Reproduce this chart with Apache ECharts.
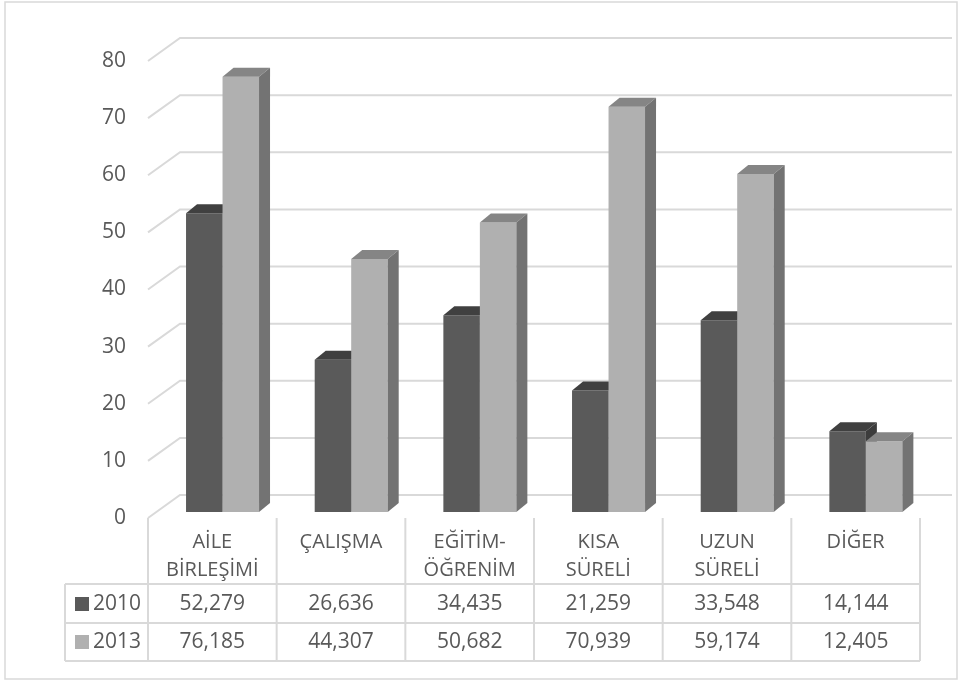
<!DOCTYPE html>
<html>
<head>
<meta charset="utf-8">
<style>
  html, body { margin: 0; padding: 0; background: #fff; }
  #main { width: 959px; height: 681px; }
</style>
<script src="https://cdn.jsdelivr.net/npm/echarts@6/dist/echarts.min.js"></script>
</head>
<body>
<div id="main"></div>
<script>
// veriler
var categories = ['AİLE\nBİRLEŞİMİ', 'ÇALIŞMA', 'EĞİTİM-\nÖĞRENİM', 'KISA\nSÜRELİ', 'UZUN\nSÜRELİ', 'DİĞER'];
var years = ['2010', '2013'];
var values2010 = [52.279, 26.636, 34.435, 21.259, 33.548, 14.144];
var values2013 = [76.185, 44.307, 50.682, 70.939, 59.174, 12.405];
var yTicks = [0, 10, 20, 30, 40, 50, 60, 70, 80];

var textColor = '#595959';
var lineColor = '#d9d9d9';
var font = 'Open Sans';

var myChart = echarts.init(document.getElementById('main'));

// derinlik (3B görünüm)
var DX = 11, DY = -9;

function fmt(v) {
    return v.toFixed(3).replace('.', ',');
}

function barRender(front, top, side, left, right) {
    return function (params, api) {
        var i = api.value(0);
        var v = api.value(1);
        var p = api.coord([i, v]);
        var b = api.coord([i, 0]);
        var cx = p[0];
        var x1 = cx + left, x2 = cx + right;
        var yt = p[1], yb = b[1];
        return {
            type: 'group',
            children: [
                { type: 'polygon', shape: { points: [[x1, yt], [x2, yt], [x2, yb], [x1, yb]] }, style: { fill: front } },
                { type: 'polygon', shape: { points: [[x1, yt], [x1 + DX, yt + DY], [x2 + DX, yt + DY], [x2, yt]] }, style: { fill: top } },
                { type: 'polygon', shape: { points: [[x2, yt], [x2 + DX, yt + DY], [x2 + DX, yb + DY], [x2, yb]] }, style: { fill: side } }
            ]
        };
    };
}

var option = {
    animation: false,
    grid: { left: 148, right: 39, top: 55, bottom: 169 },
    xAxis: {
        type: 'category',
        data: categories,
        axisLine: { show: false },
        axisTick: { show: false },
        axisLabel: {
            margin: 16,
            fontSize: 20,
            lineHeight: 28,
            color: textColor,
            fontFamily: font,
            interval: 0
        }
    },
    yAxis: {
        type: 'value',
        min: 0,
        max: 80,
        interval: 10,
        axisLine: { show: false },
        axisTick: { show: false },
        splitLine: { show: false },
        axisLabel: { show: false }
    },
    graphic: [
        { type: 'rect', shape: { x: 5, y: 2, width: 952, height: 677 }, style: { fill: 'none', stroke: lineColor, lineWidth: 1.5 }, silent: true },
        { type: 'line', shape: { x1: 65, y1: 584, x2: 920, y2: 584 }, style: { stroke: lineColor, lineWidth: 2 } },
        { type: 'line', shape: { x1: 65, y1: 623, x2: 920, y2: 623 }, style: { stroke: lineColor, lineWidth: 2 } },
        { type: 'line', shape: { x1: 65, y1: 661, x2: 920, y2: 661 }, style: { stroke: lineColor, lineWidth: 2 } },
        { type: 'line', shape: { x1: 65, y1: 584, x2: 65, y2: 661 }, style: { stroke: lineColor, lineWidth: 2 } },
        { type: 'rect', shape: { x: 75, y: 597, width: 14, height: 14 }, style: { fill: '#595959' } },
        { type: 'rect', shape: { x: 75, y: 635, width: 14, height: 14 }, style: { fill: '#b0b0b0' } },
        { type: 'text', x: 93, y: 604, style: { text: years[0], font: '21px "Open Sans"', fill: textColor, verticalAlign: 'middle' } },
        { type: 'text', x: 93, y: 642, style: { text: years[1], font: '21px "Open Sans"', fill: textColor, verticalAlign: 'middle' } }
    ],
    series: [
        {
            // kılavuz çizgileri (arka duvar) ve eksen etiketleri
            type: 'custom',
            z: 1,
            silent: true,
            data: yTicks.map(function (v) { return [0, v]; }),
            renderItem: function (params, api) {
                var v = api.value(1);
                var y = api.coord([0, v])[1];
                var band = api.size([1, 0])[0];
                var x0 = api.coord([0, 0])[0] - band / 2;
                var xEnd = api.coord([categories.length - 1, 0])[0] + band / 2;
                return {
                    type: 'group',
                    children: [
                        {
                            type: 'polyline',
                            shape: { points: [[x0, y + 6], [x0 + 32, y - 17], [xEnd + 32, y - 17]] },
                            style: { stroke: lineColor, lineWidth: 2, fill: 'none' }
                        },
                        {
                            type: 'text', x: x0 - 22, y: y + 6,
                            style: { text: String(v), font: '21px "Open Sans"', fill: textColor, align: 'right', verticalAlign: 'middle' }
                        }
                    ]
                };
            }
        },
        {
            name: years[0],
            type: 'custom',
            z: 2,
            data: values2010.map(function (v, i) { return [i, v]; }),
            renderItem: barRender('#5a5a5a', '#404040', '#3c3c3c', -26.3, 10.2)
        },
        {
            name: years[1],
            type: 'custom',
            z: 3,
            data: values2013.map(function (v, i) { return [i, v]; }),
            renderItem: barRender('#b0b0b0', '#858585', '#737373', 10.2, 46.7)
        },
        {
            // veri tablosu
            type: 'custom',
            z: 4,
            silent: true,
            data: categories.map(function (c, i) { return [i, 0]; }),
            renderItem: function (params, api) {
                var i = api.value(0);
                var cx = api.coord([i, 0])[0];
                var band = api.size([1, 0])[0];
                var xl = cx - band / 2;
                var ch = [
                    { type: 'line', shape: { x1: xl, y1: 518, x2: xl, y2: 661 }, style: { stroke: lineColor, lineWidth: 2 } },
                    { type: 'text', x: cx, y: 604, style: { text: fmt(values2010[i]), font: '21px "Open Sans"', fill: textColor, align: 'center', verticalAlign: 'middle' } },
                    { type: 'text', x: cx, y: 642, style: { text: fmt(values2013[i]), font: '21px "Open Sans"', fill: textColor, align: 'center', verticalAlign: 'middle' } }
                ];
                if (i === categories.length - 1) {
                    ch.push({ type: 'line', shape: { x1: xl + band, y1: 518, x2: xl + band, y2: 661 }, style: { stroke: lineColor, lineWidth: 2 } });
                }
                return { type: 'group', children: ch };
            }
        }
    ]
};

myChart.setOption(option);
</script>
</body>
</html>
